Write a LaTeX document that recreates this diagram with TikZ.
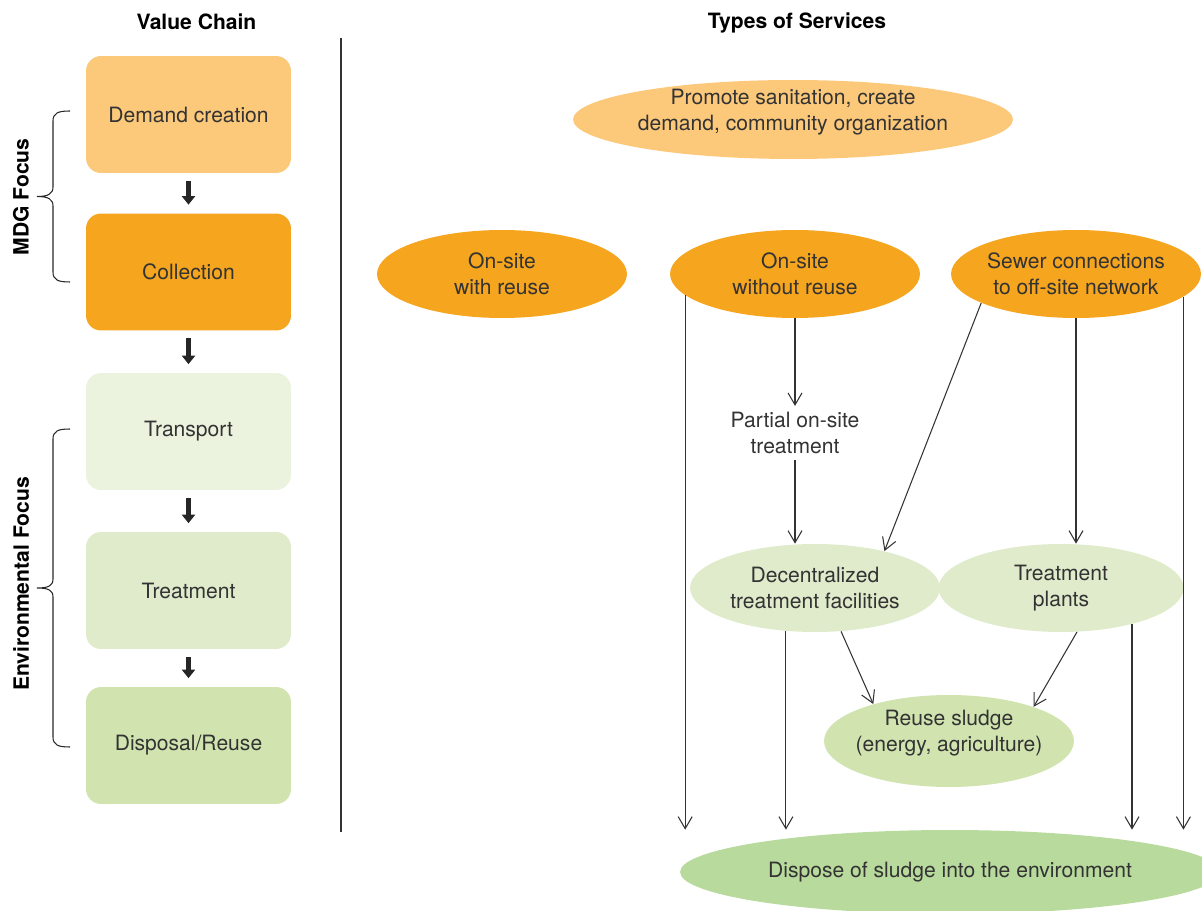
\documentclass[tikz,border=0pt]{standalone}
\usepackage{fontspec}
\setmainfont{TeX Gyre Heros}
\usepackage{xcolor}
\usetikzlibrary{arrows.meta}
\usetikzlibrary{shapes.geometric}
\tikzset{>={Straight Barb[length=2.4mm,width=2.8mm]}}

\definecolor{demandc}{HTML}{FCC97B}
\definecolor{orangec}{HTML}{F6A51F}
\definecolor{transc}{HTML}{EBF3DE}
\definecolor{treatc}{HTML}{DFEBCB}
\definecolor{dispc}{HTML}{D1E4B0}
\definecolor{envc}{HTML}{B8DA9D}
\definecolor{txtgray}{HTML}{333333}
\definecolor{linegray}{HTML}{333333}

\begin{document}
\begin{tikzpicture}[x=0.02cm,y=-0.02cm,
  every node/.style={font=\fontsize{12}{14.8}\selectfont, text=txtgray},
  title/.style={font=\fontsize{12}{14.8}\selectfont\bfseries, text=black},
  chainbox/.style={rounded corners=0.3cm, minimum width=4.1cm, minimum height=2.34cm, inner sep=0pt},
  service/.style={ellipse, minimum width=5cm, minimum height=1.76cm, inner xsep=-5mm, inner ysep=0pt, align=center},
  flow/.style={->, line width=0.6pt, draw=linegray},
  stepdown/.style={-{Triangle[length=1.7mm,width=2.6mm]}, line width=2.8pt, draw=black!85,
                   shorten <=0.15cm, shorten >=0.17cm},
  bracel/.style={line width=0.6pt, draw=black!85}]

  \useasboundingbox (0,0) rectangle (1202,911);

  % headings
  \node[title] (vchain) at (196.5,22) {Value Chain};
  \node[title] (types) at (797,23) {Types of Services};

  \draw[line width=0.7pt, linegray] (341,38) -- (341,832);

  % value chain
  \node[chainbox, fill=demandc] (demand) at (188.5,114.5) {Demand creation};
  \node[chainbox, fill=orangec] (collect) at (188.5,272) {Collection};
  \node[chainbox, fill=transc] (transport) at (188.5,431.5) {Transport};
  \node[chainbox, fill=treatc] (treat) at (188.5,590.5) {Treatment};
  \node[chainbox, fill=dispc] (dispose) at (188.5,745.5) {Disposal/Reuse};

  \draw[stepdown] (demand) -- (collect);
  \draw[stepdown] (collect) -- (transport);
  \draw[stepdown] (transport) -- (treat);
  \draw[stepdown] (treat) -- (dispose);

  % braces
  \draw[bracel] (70,111) .. controls (58,111) and (53,113) .. (53,121) -- (53,187)
    .. controls (53,194) and (48,196.5) .. (37,196.5)
    .. controls (48,196.5) and (53,199) .. (53,206) -- (53,272)
    .. controls (53,280) and (58,282) .. (70,282);
  \draw[bracel] (70,429) .. controls (58,429) and (53,431) .. (53,439) -- (53,579)
    .. controls (53,586) and (48,588) .. (37,588)
    .. controls (48,588) and (53,590) .. (53,597) -- (53,737)
    .. controls (53,745) and (58,747) .. (70,747);

  \node[title, rotate=90] (mdg) at (21,197) {MDG Focus};
  \node[title, rotate=90] (envfocus) at (21,584) {Environmental Focus};

  % types of services
  \node[service, fill=demandc, minimum width=8.8cm, minimum height=1.58cm] (promote) at (793,119.5) {};
  \node[align=center] (promotetext) at (793,112) {Promote sanitation, create\\demand, community organization};

  \node[service, fill=orangec] (onsitew) at (502,274) {On-site\\with reuse};
  \node[service, fill=orangec] (onsitewo) at (795,274) {On-site\\without reuse};
  \node[service, fill=orangec] (sewer) at (1076,274) {Sewer connections\\to off-site network};

  \node[align=center] (partial) at (795,433) {Partial on-site\\treatment};

  \node[service, fill=treatc] (decent) at (815,588) {Decentralized\\treatment facilities};
  \node[service, fill=treatc, minimum width=4.9cm] (plants) at (1061,588) {Treatment\\plants};

  \node[service, fill=dispc, minimum height=1.84cm] (reuse) at (949,741) {};
  \node[align=center] (reusetext) at (949,733) {Reuse sludge\\(energy, agriculture)};

  \node[service, fill=envc, minimum width=10.8cm, minimum height=1.68cm] (envdispose) at (950,872)
    {Dispose of sludge into the environment};

  % flows
  \draw[flow] (onsitewo.191) -- (onsitewo.191 |- envdispose.north);
  \draw[flow] (onsitewo.south) -- (partial.north);
  \draw[flow] (partial.south) -- (partial.south |- decent.north);
  \draw[flow] (sewer.197) -- (decent.28);
  \draw[flow] (sewer.south) -- (sewer.south |- plants.north);
  \draw[flow] (sewer.348) -- (sewer.348 |- envdispose.north);
  \draw[flow] (decent.236) -- (decent.236 |- envdispose.north);
  \draw[flow] (decent.301) -- (reuse.154);
  \draw[flow] (plants.290) -- (reuse.22);
  \draw[flow] (plants.333) -- (plants.333 |- envdispose.north);

\end{tikzpicture}
\end{document}
